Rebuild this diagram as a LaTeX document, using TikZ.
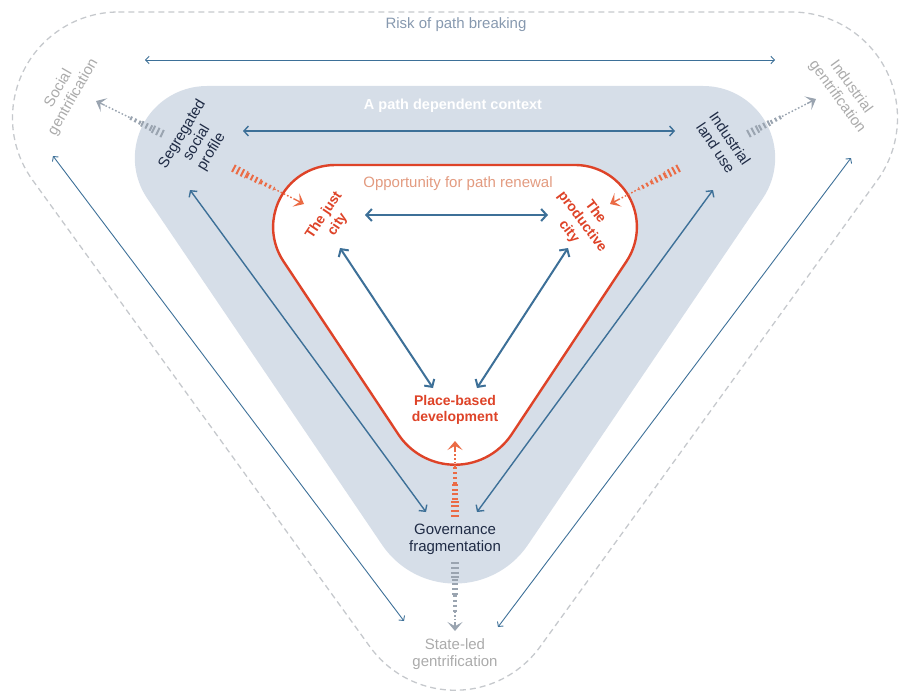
\documentclass[tikz,border=0pt]{standalone}
\usepackage{fontspec}
\setmainfont{Liberation Sans}
\usetikzlibrary{arrows.meta,calc}
\definecolor{bandgray}{HTML}{D6DEE8}
\definecolor{redline}{HTML}{DE4328}
\definecolor{orangeh}{HTML}{EB6B45}
\definecolor{grayh}{HTML}{9AA4B0}
\definecolor{blueline}{HTML}{3D7098}
\definecolor{navy}{HTML}{1F2B45}
\definecolor{risk}{HTML}{8799AF}
\definecolor{opp}{HTML}{E39B80}
\definecolor{lightt}{HTML}{ABABAB}
\definecolor{dashg}{HTML}{C6C9CD}

\newcommand\rtri[7]{%
 \pgfmathsetmacro\rA{atan(1/#5)}%
 \pgfmathsetmacro\rT{#6/tan(\rA/2)}%
 \pgfmathsetmacro\rBy{#3+#4/#5}%
 \pgfmathsetmacro\rCy{\rBy-#7/cos(\rA)}%
 \pgfmathsetmacro\rN{90-\rA}%
 \pgfmathsetmacro\rM{90+\rA}%
 \pgfmathsetmacro\rxl{#2-#4+\rT}%
 \pgfmathsetmacro\rxr{#2+#4-\rT}%
 \pgfmathsetmacro\ryc{#3+#6}%
 \path[#1] (\rxl,#3) -- (\rxr,#3)
   arc[start angle=-90,end angle=\rN,radius=#6]
   -- ($(#2,\rCy)+(\rN:#7)$)
   arc[start angle=\rN,end angle=\rM,radius=#7]
   -- ($(\rxl,\ryc)+(\rM:#6)$)
   arc[start angle=\rM,end angle=270,radius=#6]
   -- cycle;}

\newcommand\hatcharr[4]{%
 \pgfmathsetmacro\hfa{#4/3}\pgfmathsetmacro\hfb{2*#4/3}%
 \draw[#1,line width=8pt,dash pattern=on 2pt off 2.8pt] (#2) -- ($(#2)!\hfa!(#3)$);
 \draw[#1,line width=6pt,dash pattern=on 2pt off 2.8pt] ($(#2)!\hfa!(#3)$) -- ($(#2)!\hfb!(#3)$);
 \draw[#1,line width=4pt,dash pattern=on 2pt off 2.8pt] ($(#2)!\hfb!(#3)$) -- ($(#2)!#4!(#3)$);
 \draw[#1,line width=1.4pt,dash pattern=on 1.6pt off 2pt] ($(#2)!#4!(#3)$) -- ($(#2)!0.88!(#3)$);
 \draw[#1,line width=1.4pt,-{Stealth[length=9pt,width=15pt,inset=4.2pt]}] ($(#2)!0.87!(#3)$) -- (#3);}

\begin{document}
\begin{tikzpicture}[x=1pt,y=1pt,yscale=-1,
  lbl/.style={font=\fontsize{15}{17}\selectfont,align=center,inner sep=0pt},
  navylbl/.style={lbl,text=navy},
  lightlbl/.style={lbl,text=lightt},
  redlbl/.style={font=\bfseries\fontsize{14}{16.5}\selectfont,text=redline,align=center,inner sep=0pt},
  outerarr/.style={blueline,line width=0.9pt,{Straight Barb[length=3.5pt,width=7.5pt]}-{Straight Barb[length=3.5pt,width=7.5pt]}},
  bandarr/.style={blueline,line width=1.4pt,{Straight Barb[length=4.5pt,width=10pt]}-{Straight Barb[length=4.5pt,width=10pt]}},
  innerarr/.style={blueline,line width=2pt,{Straight Barb[length=5.5pt,width=12pt]}-{Straight Barb[length=5.5pt,width=12pt]}}]
\useasboundingbox (0,0) rectangle (906,693);
% shapes
\rtri{draw=dashg,line width=1.3pt,dash pattern=on 6pt off 4pt}{455}{12}{544}{0.723}{106}{105}
\rtri{fill=bandgray}{455}{86}{384}{0.678}{72}{88}
\rtri{fill=white,draw=redline,line width=2.4pt}{455}{165}{235.5}{0.664}{62}{68}

% coordinates of arrow ends
\coordinate (ot1) at (145,60);  \coordinate (ot2) at (775,60);
\coordinate (bt1) at (243,131); \coordinate (bt2) at (675,131);
\coordinate (it1) at (365,215); \coordinate (it2) at (548,215);
\coordinate (il1) at (340,248); \coordinate (il2) at (433,388);
\coordinate (ir1) at (568,248); \coordinate (ir2) at (477,388);
\coordinate (bl1) at (190,190); \coordinate (bl2) at (426,512);
\coordinate (br1) at (713,190); \coordinate (br2) at (477,512);
\coordinate (ol1) at (53,156);  \coordinate (ol2) at (404,621);
\coordinate (or1) at (851,158); \coordinate (or2) at (498,627);

\draw[outerarr] (ot1) -- (ot2);
\draw[outerarr] (ol1) -- (ol2);
\draw[outerarr] (or1) -- (or2);
\draw[bandarr] (bt1) -- (bt2);
\draw[bandarr] (bl1) -- (bl2);
\draw[bandarr] (br1) -- (br2);
\draw[innerarr] (it1) -- (it2);
\draw[innerarr] (il1) -- (il2);
\draw[innerarr] (ir1) -- (ir2);

% hatched arrows
\coordinate (hAs) at (233,168); \coordinate (hAe) at (304,204);
\coordinate (hBs) at (679,168); \coordinate (hBe) at (610,204);
\coordinate (hCs) at (455,517); \coordinate (hCe) at (455,441);
\coordinate (hDs) at (163,134); \coordinate (hDe) at (96,101);
\coordinate (hEs) at (748,134); \coordinate (hEe) at (816,99);
\coordinate (hFs) at (455,562); \coordinate (hFe) at (455,631);
\hatcharr{orangeh}{hAs}{hAe}{0.58}
\hatcharr{orangeh}{hBs}{hBe}{0.58}
\hatcharr{orangeh}{hCs}{hCe}{0.66}
\hatcharr{grayh}{hDs}{hDe}{0.5}
\hatcharr{grayh}{hEs}{hEe}{0.5}
\hatcharr{grayh}{hFs}{hFe}{0.72}

% labels
\node[lbl,text=risk] (risk) at (456,25) {Risk of path breaking};
\node[font=\bfseries\fontsize{14.5}{17}\selectfont,text=white,inner sep=0pt] (ctx) at (453,106) {A path dependent context};
\node[lbl,text=opp] (opp) at (458,184) {Opportunity for path renewal};
\node[navylbl,rotate=59] (seg) at (197,143) {Segregated\\social\\profile};
\node[navylbl,rotate=-56] (ind) at (723,143) {Industrial\\land use};
\node[navylbl] (gov) at (455,539) {Governance\\fragmentation};
\node[lightlbl,rotate=60] (sg) at (66,93) {Social\\gentrification};
\node[lightlbl,rotate=-54] (ig) at (844,92) {Industrial\\gentrification};
\node[lightlbl] (slg) at (455,654) {State-led\\gentrification};
\node[redlbl,rotate=56] (just) at (331,220) {The just\\city};
\node[redlbl,rotate=-53] (prod) at (582,222) {The\\productive\\city};
\node[redlbl] (pbd) at (455,410) {Place-based\\development};
\end{tikzpicture}
\end{document}
